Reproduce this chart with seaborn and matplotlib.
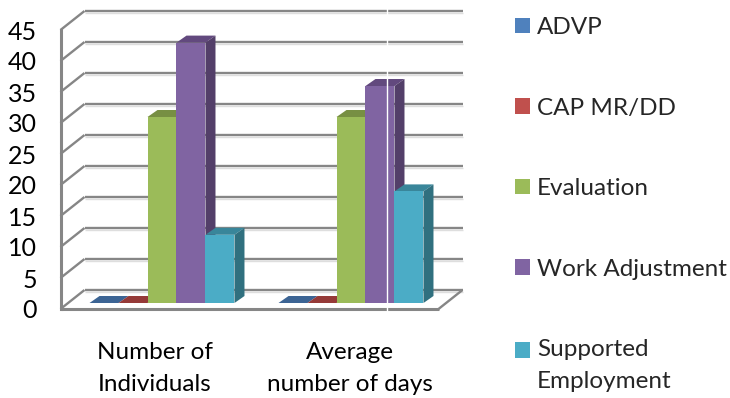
import matplotlib
matplotlib.use("Agg")
import matplotlib.pyplot as plt
from matplotlib.patches import Polygon
from matplotlib.transforms import Affine2D
import pandas as pd
import seaborn as sns

categories = ["Number of\nIndividuals", "Average\nnumber of days"]
services = ["ADVP", "CAP MR/DD", "Evaluation", "Work Adjustment", "Supported\nEmployment"]
advp = [0, 0]
cap_mr_dd = [0, 0]
evaluation = [30, 30]
work_adjustment = [42, 35]
supported_employment = [11, 18]
y_ticks = list(range(0, 50, 5))

front_colors = ["#4F81BD", "#C0504D", "#9BBB59", "#8064A2", "#4BACC6"]
top_colors = ["#3C6494", "#953A38", "#778F43", "#62497E", "#39869A"]
side_colors = ["#335579", "#7E312F", "#647A38", "#533F69", "#30707F"]
grid_color = "#868686"
shadow_color = "#DEDEDE"

W, H = 730, 398
sns.set_theme(style="white")
plt.rcParams["font.family"] = ["Lato", "DejaVu Sans"]

df = pd.DataFrame({
    "group": categories * 5,
    "service": [s for s in services for _ in categories],
    "value": advp + cap_mr_dd + evaluation + work_adjustment + supported_employment,
})

fig = plt.figure(figsize=(W / 100, H / 100), dpi=100)
# The axes sit on the plane of the bars' front faces.
left, right, y_zero, y_top = 67.5, 445.5, 303, 24
ax = fig.add_axes([left / W, 1 - y_zero / H, (right - left) / W, (y_zero - y_top) / H])
sns.barplot(data=df, x="group", y="value", hue="service", hue_order=services,
            order=categories, palette=front_colors, width=0.767, saturation=1,
            dodge=True, legend=False, linewidth=0, zorder=5, ax=ax)
ax.set_xlim(-0.5, 1.5)
ax.set_ylim(0, 45)
ax.set_xlabel("")
ax.set_ylabel("")
for side in ax.spines.values():
    side.set_visible(False)
ax.patch.set_alpha(0)


def shifted(dx, dy):
    return ax.transData + Affine2D().translate(dx, dy)


# Walls and floor: front plane and back plane are offset from the bar plane.
front = (-7, -6)
back = (17, 13)
inv = ax.transData.inverted()
line_kw = dict(color=grid_color, lw=1.7, solid_capstyle="butt", clip_on=False, zorder=2)
shadow_kw = dict(color=shadow_color, lw=1.0, solid_capstyle="butt", clip_on=False, zorder=1)
for v in y_ticks:
    ax.plot([-0.5, 1.5], [v, v], transform=shifted(back[0], back[1] - 2), **shadow_kw)
    ax.plot([-0.5, 1.5], [v, v], transform=shifted(*back), **line_kw)
    a = inv.transform(shifted(*front).transform((-0.5, v)))
    b = inv.transform(shifted(*back).transform((-0.5, v)))
    ax.plot([a[0], b[0]], [a[1], b[1]], **line_kw)
ax.plot([-0.5, -0.5], [0, 45], transform=shifted(*front), color=grid_color, lw=2.2,
        solid_capstyle="projecting", clip_on=False, zorder=2)
ax.plot([-0.5, 1.5], [0, 0], transform=shifted(*front), color=grid_color, lw=2.2,
        solid_capstyle="butt", clip_on=False, zorder=2)
a = inv.transform(shifted(*front).transform((1.5, 0)))
b = inv.transform(shifted(*back).transform((1.5, 0)))
ax.plot([a[0], b[0]], [a[1], b[1]], **line_kw)

# Extrude every front face into a top and a right-hand side face.
p0 = inv.transform((0, 0))
p1 = inv.transform((10, 7))
ddx, ddy = p1[0] - p0[0], p1[1] - p0[1]
for idx, bar in enumerate(list(ax.patches)):
    s = idx // 2
    x, w, h = bar.get_x(), bar.get_width(), bar.get_height()
    z = 5 + s
    bar.set_zorder(z + 0.2)
    ax.add_patch(Polygon([(x, h), (x + w, h), (x + w + ddx, h + ddy), (x + ddx, h + ddy)],
                         fc=top_colors[s], ec="none", clip_on=False, zorder=z))
    if h > 0:
        ax.add_patch(Polygon([(x + w, 0), (x + w + ddx, ddy), (x + w + ddx, h + ddy), (x + w, h)],
                             fc=side_colors[s], ec="none", clip_on=False, zorder=z))

# Thin white rule running down through the second group.
xw = inv.transform((387, 0))[0]
ax.plot([xw, xw], [-1.5, 48.8], color="white", lw=1, clip_on=False, zorder=20)

ax.set_yticks(y_ticks, [str(v) for v in y_ticks])
ax.tick_params(axis="y", length=0, pad=22, labelsize=18, labelcolor="black")
ax.tick_params(axis="x", length=0, pad=28, labelsize=17.5, labelcolor="black")
for lab in ax.get_yticklabels():
    lab.set_transform(lab.get_transform() + Affine2D().translate(0, -6))
for lab, nudge in zip(ax.get_xticklabels(), [-7, -1]):
    lab.set_linespacing(1.65)
    lab.set_transform(lab.get_transform() + Affine2D().translate(nudge, 0))

# Legend keys and entries.
handles = [plt.Rectangle((0, 0), 1, 1, fc=c, ec="none") for c in front_colors]
leg = fig.legend(handles, services, loc="upper left", bbox_to_anchor=(515 / W, 1 - 17 / H),
                 bbox_transform=fig.transFigure, frameon=False, fontsize=17.5,
                 handlelength=0.62, handleheight=0.62, handletextpad=0.29,
                 labelspacing=2.45, borderpad=0, borderaxespad=0)
for text in leg.get_texts():
    text.set_linespacing(1.65)
# The key of the two-line entry lines up with its first line.
last_key = leg.legend_handles[-1]
last_key.set_y(last_key.get_y() + 16 * 72 / 100)

fig.savefig("out.png", dpi=100)
